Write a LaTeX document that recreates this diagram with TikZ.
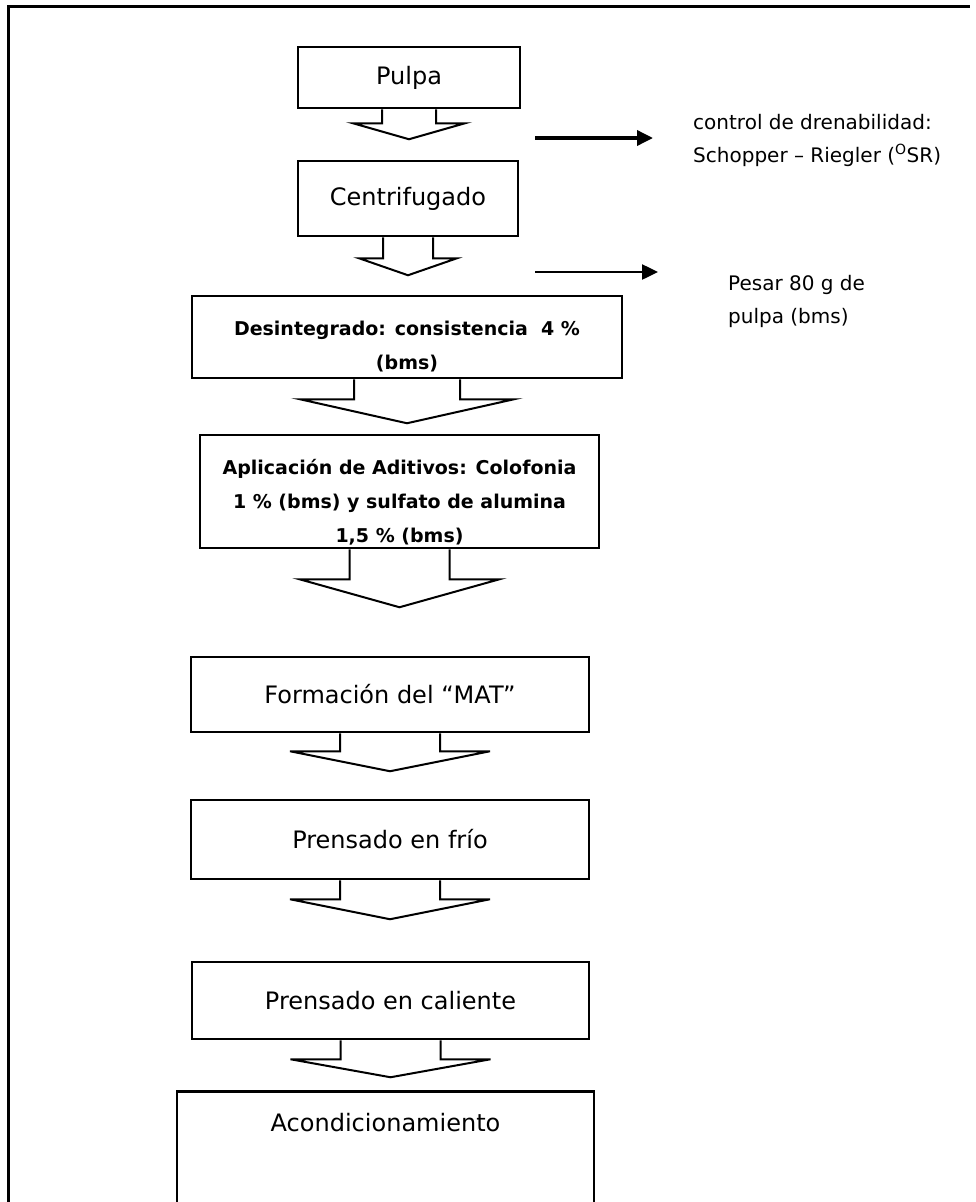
\documentclass[tikz,border=0pt]{standalone}
\usepackage{fontspec}
\setmainfont{DejaVu Sans}
\usetikzlibrary{calc,arrows.meta}

\begin{document}
\begin{tikzpicture}[x=1pt, y=-1pt,
        stage/.style=
            {
                rectangle,
                draw = black,
                line width = 2.5pt,
                fill = white,
                inner sep = 0pt,
                align = center,
                font = \fontsize{24}{30}\selectfont
            },
        detail/.style=
            {
                rectangle,
                inner sep = 0pt,
                align = center,
                font = \bfseries\fontsize{19}{34}\selectfont
            },
        note/.style=
            {
                anchor = west,
                align = left,
                inner sep = 0pt,
                font = \fontsize{20}{33}\selectfont
            },
        block/.style=
            {
                draw = black,
                line width = 2pt,
                line join = miter
            },
        pointer/.style=
            {
                -{Triangle[length=16pt,width=15pt]},
                draw = black
            }
    ]

    \clip (0,0) rectangle (975,1202);
    \draw[line width = 3pt] (8,1215) -- (8,6) -- (970,6);

    \draw (409,77.5) node[stage, minimum width=222pt, minimum height=61pt] (pulpa) {Pulpa};
    \draw (408,198.5) node[stage, minimum width=220pt, minimum height=75pt] (centrif) {Centrifugado};
    \draw (407,337) node[stage, minimum width=430pt, minimum height=82pt] (desint) {};
    \draw ($(desint.center)+(0,10)$) node[detail] (desinttxt) {Desintegrado: consistencia~~4 \%\\(bms)};
    \draw (399.5,491.5) node[stage, minimum width=399pt, minimum height=113pt] (aditivos) {};
    \draw ($(aditivos.center)+(0,11)$) node[detail] (aditivostxt) {Aplicación de Aditivos: Colofonia\\1 \% (bms) y sulfato de alumina\\1,5 \% (bms)};
    \draw (390,694.5) node[stage, minimum width=398pt, minimum height=75pt] (mat) {Formación del “MAT”};
    \draw (390,839.5) node[stage, minimum width=398pt, minimum height=79pt] (frio) {Prensado en frío};
    \draw (390.5,1000.5) node[stage, minimum width=397pt, minimum height=77pt] (caliente) {Prensado en caliente};
    \draw (385.5,1090) node[stage, anchor=north, minimum width=417pt, minimum height=170pt] (acond) {};
    \draw ($(acond.north)+(0,33)$) node[stage, draw=none, fill=none] (acondtxt) {Acondicionamiento};

    \draw[block] ($(pulpa.south)+(-27,0)$) -- ++(0,14) -- ++(-29,0) -- ++(56,16) -- ++(56,-16) -- ++(-29,0) -- ++(0,-14);
    \draw[block] ($(centrif.south)+(-25,0)$) -- ++(0,21) -- ++(-24,0) -- ++(49,17) -- ++(49,-17) -- ++(-24,0) -- ++(0,-21);
    \draw[block] ($(desint.south)+(-53,0)$) -- ++(0,20) -- ++(-54,0) -- ++(107,24) -- ++(107,-24) -- ++(-54,0) -- ++(0,-20);
    \draw[block] ($(aditivos.south)+(-50,0)$) -- ++(0,30) -- ++(-50,0) -- ++(100,28) -- ++(100,-28) -- ++(-50,0) -- ++(0,-30);
    \draw[block] ($(mat.south)+(-50,0)$) -- ++(0,18) -- ++(-50,0) -- ++(100,20) -- ++(100,-20) -- ++(-50,0) -- ++(0,-18);
    \draw[block] ($(frio.south)+(-50,0)$) -- ++(0,19) -- ++(-50,0) -- ++(100,20) -- ++(100,-20) -- ++(-50,0) -- ++(0,-19);
    \draw[block] ($(caliente.south)+(-50,0)$) -- ++(0,19) -- ++(-50,0) -- ++(100,18) -- ++(100,-18) -- ++(-50,0) -- ++(0,-19);

    \draw (693,140.5) node[note] (drenaje) {control de drenabilidad:\\Schopper – Riegler (\textsuperscript{O}SR)};
    \draw (728,301) node[note] (pesaje) {Pesar 80 g de\\pulpa (bms)};

    \coordinate (d1) at (535,138);
    \coordinate (d2) at (653,138);
    \coordinate (p1) at (535,272);
    \coordinate (p2) at (658,272);
    \draw[pointer, line width = 3.5pt] (d1) -- (d2);
    \draw[pointer, line width = 2.5pt] (p1) -- (p2);

\end{tikzpicture}
\end{document}
